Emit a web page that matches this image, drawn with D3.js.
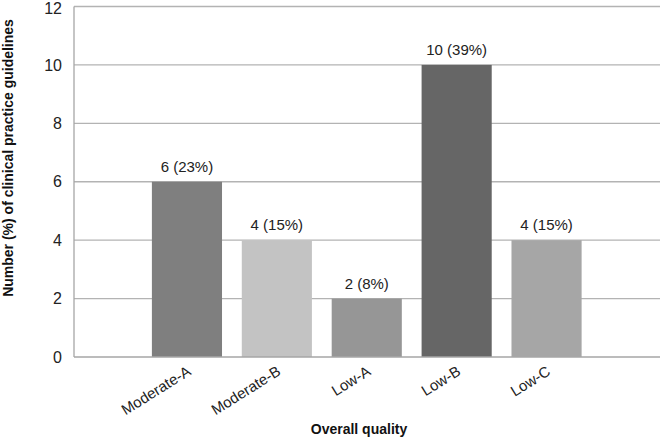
<!DOCTYPE html>
<html><head><meta charset="utf-8">
<script src="https://cdn.jsdelivr.net/npm/d3@7"></script>
<style>body{margin:0;background:#fff}svg{display:block;font-family:"Liberation Sans",Arial,sans-serif}</style>
</head><body><svg id="c" width="660" height="437"></svg>
<script>
const categories = ["Moderate-A","Moderate-B","Low-A","Low-B","Low-C"];
const counts = [6,4,2,10,4];
const percents = ["23%","15%","8%","39%","15%"];
const barColors = ["#7f7f7f","#c3c3c3","#969696","#666666","#a6a6a6"];
const yTicks = [0,2,4,6,8,10,12];

const svg = d3.select("#c");
const pLeft = 74, pRight = 660, pTop = 6.5, pBottom = 357;
const y = d3.scaleLinear().domain([0,12]).range([pBottom, pTop]);
const x = d3.scaleBand().domain(categories).range([142, 591.5]).paddingInner(0.22).paddingOuter(0.11);

// gridlines
svg.append("g").selectAll("line").data(yTicks.filter(d=>d>0)).join("line")
  .attr("x1", pLeft).attr("x2", pRight)
  .attr("y1", d=>y(d)).attr("y2", d=>y(d))
  .attr("stroke", "#b3b3b3").attr("stroke-width", 1.3);

// bars
svg.append("g").selectAll("rect").data(categories).join("rect")
  .attr("x", d=>x(d)).attr("width", x.bandwidth())
  .attr("y", (d,i)=>y(counts[i])).attr("height", (d,i)=>pBottom - y(counts[i]))
  .attr("fill", (d,i)=>barColors[i]);

// axes lines
svg.append("line").attr("x1", pLeft).attr("x2", pLeft).attr("y1", pTop).attr("y2", pBottom)
  .attr("stroke", "#a6a6a6").attr("stroke-width", 1.3);
svg.append("line").attr("x1", pLeft).attr("x2", pRight).attr("y1", pBottom).attr("y2", pBottom)
  .attr("stroke", "#a6a6a6").attr("stroke-width", 1.3);

// y tick labels
svg.append("g").selectAll("text").data(yTicks).join("text")
  .attr("x", 62).attr("y", d=>Math.max(y(d), 8.5)).attr("dy", "0.35em")
  .attr("text-anchor", "end").attr("font-size", 16).attr("fill", "#222")
  .text(d=>d);

// value labels
svg.append("g").selectAll("text").data(categories).join("text")
  .attr("x", d=>x(d) + x.bandwidth()/2).attr("y", (d,i)=>y(counts[i]) - 10)
  .attr("text-anchor", "middle").attr("font-size", 15).attr("fill", "#222")
  .text((d,i)=>`${counts[i]} (${percents[i]})`);

// x tick labels rotated
svg.append("g").selectAll("text").data(categories).join("text")
  .attr("transform", d=>`translate(${x(d) + x.bandwidth()/2 + 5},${pBottom + 17}) rotate(-32)`)
  .attr("text-anchor", "end").attr("font-size", 15).attr("fill", "#222")
  .text(d=>d);

// axis titles
svg.append("text").attr("x", 359).attr("y", 434).attr("text-anchor", "middle")
  .attr("font-size", 14).attr("font-weight", "bold").attr("fill", "#111").text("Overall quality");
svg.append("text").attr("transform", `translate(13,158) rotate(-90)`).attr("text-anchor", "middle")
  .attr("font-size", 14).attr("font-weight", "bold").attr("fill", "#111")
  .text("Number (%) of clinical practice guidelines");
</script></body></html>
